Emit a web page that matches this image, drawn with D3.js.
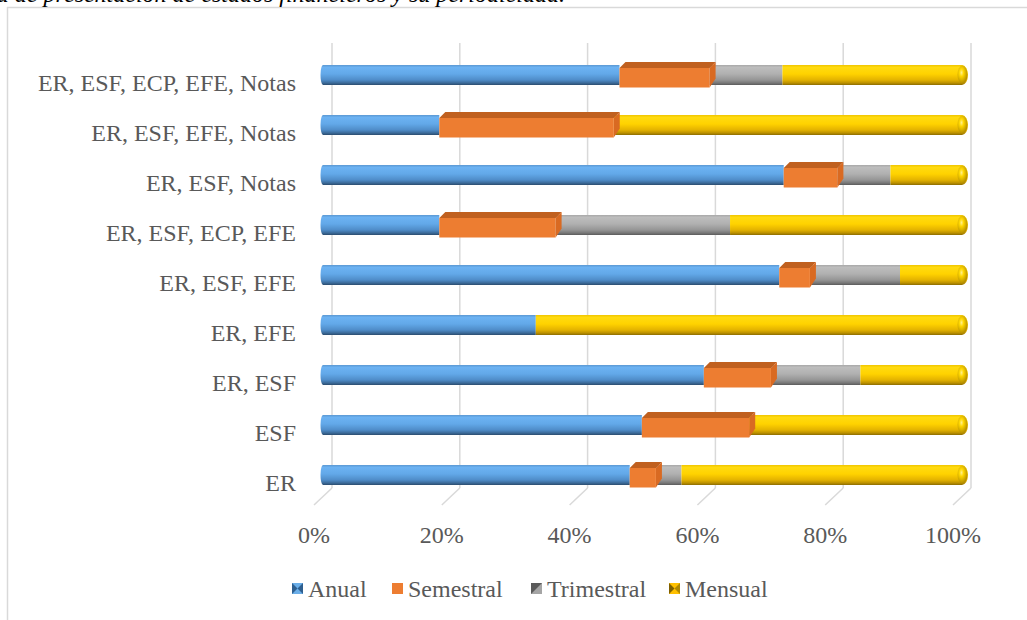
<!DOCTYPE html>
<html><head><meta charset="utf-8">
<script src="https://cdn.jsdelivr.net/npm/d3@7/dist/d3.min.js"></script>
<style>body{margin:0;background:#fff;}svg{display:block;}</style>
</head><body>
<svg id="c" width="1027" height="620"></svg>
<script>
const categories = ["ER, ESF, ECP, EFE, Notas","ER, ESF, EFE, Notas","ER, ESF, Notas","ER, ESF, ECP, EFE","ER, ESF, EFE","ER, EFE","ER, ESF","ESF","ER"];
const seriesNames = ["Anual","Semestral","Trimestral","Mensual"];
const anual      = [46.4, 18.2, 72.1, 18.2, 71.4, 33.3, 59.6, 49.9, 48.0];
const semestral  = [14.1, 27.3,  8.4, 18.2,  4.8,  0.0, 10.5, 16.8,  4.1];
const trimestral = [11.4,  0.0,  8.3, 27.3, 14.1,  0.0, 14.0,  0.0,  4.0];
const mensual    = [28.1, 54.5, 11.2, 36.3,  9.7, 66.7, 15.9, 33.3, 43.9];
const tickValues = [0,20,40,60,80,100];
const tickLabels = ["0%","20%","40%","60%","80%","100%"];
const titleText = "Frecuencia de presentación de estados financieros y su periodicidad.";

const svg = d3.select("#c");
const FONT = "'Times New Roman','Liberation Serif',serif";
const TXT = "#595959";
const FS = 24;

const DX = 9, DY = 8.5;

const x = d3.scaleLinear().domain([0,100]).range([323, 962]);
const y = d3.scaleBand().domain(categories).range([50, 500]).padding(0);
const BH = 20;

const defs = svg.append("defs");
function vgrad(id, stops){
  const g = defs.append("linearGradient").attr("id",id).attr("x1",0).attr("y1",0).attr("x2",0).attr("y2",1);
  stops.forEach(s=>g.append("stop").attr("offset",s[0]).attr("stop-color",s[1]));
}
vgrad("g0",[[0,"#5b98d2"],[0.12,"#6cb2f2"],[0.45,"#62a8e8"],[0.75,"#4f8cc8"],[0.9,"#3b6a98"],[1,"#2b4c6e"]]);
vgrad("g2",[[0,"#a8a8a8"],[0.12,"#bdbdbd"],[0.45,"#b0b0b0"],[0.75,"#959595"],[0.9,"#777"],[1,"#5a5a5a"]]);
vgrad("g3",[[0,"#f0c400"],[0.12,"#ffdb10"],[0.45,"#ffd200"],[0.75,"#e3b200"],[0.9,"#bb9000"],[1,"#8c6c00"]]);
const rg = defs.append("radialGradient").attr("id","cap").attr("cx",0.4).attr("cy",0.4).attr("r",0.6);
rg.append("stop").attr("offset",0).attr("stop-color","#fff3a0");
rg.append("stop").attr("offset",0.35).attr("stop-color","#ffd700");
rg.append("stop").attr("offset",1).attr("stop-color","#b08a00");

// outer frame
svg.append("line").attr("x1",7).attr("y1",7.5).attr("x2",1027).attr("y2",7.5).attr("stroke","#d9d9d9").attr("stroke-width",1.5);
svg.append("line").attr("x1",7.5).attr("y1",7).attr("x2",7.5).attr("y2",620).attr("stroke","#d9d9d9").attr("stroke-width",1.5);

// title (clipped at top, as in the reference)
svg.append("text").attr("transform",`translate(565,1.5)`)
  .attr("text-anchor","end").attr("font-family",FONT).attr("font-style","italic")
  .attr("font-size",FS).attr("fill","#000").text(titleText);

// gridlines (back plane) and floor diagonals
const gBack = svg.append("g");
const floorBackY = 488;
tickValues.forEach(v=>{
  const xb = x(v)+DX;
  gBack.append("line").attr("x1",xb).attr("x2",xb).attr("y1",43).attr("y2",floorBackY)
    .attr("stroke","#d9d9d9").attr("stroke-width",1.5);
  gBack.append("line").attr("x1",xb).attr("y1",floorBackY).attr("x2",xb-2*DX).attr("y2",floorBackY+2*DY)
    .attr("stroke","#d9d9d9").attr("stroke-width",1.5);
});

// tick labels (front plane)
tickValues.forEach((v,i)=>{
  svg.append("text").attr("x",x(v)-DX).attr("y",543)
    .attr("text-anchor","middle").attr("font-family",FONT).attr("font-size",FS).attr("fill",TXT)
    .text(tickLabels[i]);
});

// category labels
categories.forEach(c=>{
  svg.append("text").attr("x",296).attr("y",y(c)+y.bandwidth()/2+DY+7.5)
    .attr("text-anchor","end").attr("font-family",FONT).attr("font-size",FS).attr("fill",TXT).text(c);
});

const data = categories.map((c,i)=>({cat:c, Anual:anual[i], Semestral:semestral[i], Trimestral:trimestral[i], Mensual:mensual[i]}));
const stack = d3.stack().keys(seriesNames)(data);
const fills = ["url(#g0)", "#ed7d31", "url(#g2)", "url(#g3)"];

const gBars = svg.append("g");
[0,2,3].forEach(si=>{
  stack[si].forEach((d,i)=>{
    if (d[1]-d[0] <= 0) return;
    const cy = y(categories[i]) + y.bandwidth()/2;
    gBars.append("rect").attr("x",x(d[0])).attr("y",cy-BH/2).attr("width",x(d[1])-x(d[0])).attr("height",BH)
      .attr("fill",fills[si]);
  });
});
categories.forEach((c,i)=>{
  const cy = y(c)+y.bandwidth()/2;
  gBars.append("ellipse").attr("cx",x(0)).attr("cy",cy).attr("rx",2.5).attr("ry",BH/2).attr("fill","url(#g0)");
  gBars.append("ellipse").attr("cx",x(100)).attr("cy",cy).attr("rx",6).attr("ry",BH/2).attr("fill","url(#g3)");
  gBars.append("ellipse").attr("cx",x(100)+0.5).attr("cy",cy-0.5).attr("rx",5).attr("ry",BH/2-1).attr("fill","url(#cap)").attr("opacity",0.9);
});
const BD = 6;
stack[1].forEach((d,i)=>{
  if (d[1]-d[0] <= 0) return;
  const cy = y(categories[i]) + y.bandwidth()/2;
  const x0 = x(d[0]), x1 = x(d[1]);
  const top = cy-7, bot = cy+12.5;
  gBars.append("path").attr("d",`M${x1},${top}L${x1+BD},${top-BD}L${x1+BD},${bot-BD-3}L${x1},${bot}Z`).attr("fill","#d96a22");
  gBars.append("path").attr("d",`M${x0},${top}L${x0+BD},${top-BD}L${x1+BD},${top-BD}L${x1},${top}Z`).attr("fill","#c0601f");
  gBars.append("rect").attr("x",x0).attr("y",top).attr("width",x1-x0).attr("height",bot-top).attr("fill","#ed7d31");
});

// legend
const legX = [292, 392, 531, 669];
const lg = svg.append("g");
seriesNames.forEach((s,i)=>{
  const lx = legX[i], ly = 583, sz = 11;
  const g = lg.append("g");
  if (i===0){
    g.append("rect").attr("x",lx).attr("y",ly).attr("width",sz).attr("height",sz).attr("fill","#6aaee8");
    g.append("path").attr("d",`M${lx},${ly}L${lx+sz/2},${ly+sz/2}L${lx},${ly+sz}Z`).attr("fill","#2e5f8f");
    g.append("path").attr("d",`M${lx+sz},${ly}L${lx+sz/2},${ly+sz/2}L${lx+sz},${ly+sz}Z`).attr("fill","#2e5f8f");
  } else if (i===1){
    g.append("rect").attr("x",lx).attr("y",ly).attr("width",sz).attr("height",sz).attr("fill","#ed7d31");
  } else if (i===2){
    g.append("rect").attr("x",lx).attr("y",ly).attr("width",sz).attr("height",sz).attr("fill","#a5a5a5");
    g.append("path").attr("d",`M${lx},${ly}L${lx+sz},${ly}L${lx},${ly+sz}Z`).attr("fill","#5a5a5a");
  } else {
    g.append("rect").attr("x",lx).attr("y",ly).attr("width",sz).attr("height",sz).attr("fill","#ffc000");
    g.append("path").attr("d",`M${lx},${ly}L${lx+sz/2},${ly+sz/2}L${lx},${ly+sz}Z`).attr("fill","#7f6000");
    g.append("path").attr("d",`M${lx+sz},${ly}L${lx+sz/2},${ly+sz/2}L${lx+sz},${ly+sz}Z`).attr("fill","#b08800");
  }
  g.append("text").attr("x",lx+sz+5).attr("y",ly+sz+3)
    .attr("font-family",FONT).attr("font-size",FS).attr("fill",TXT).text(s);
});
</script>
</body></html>
